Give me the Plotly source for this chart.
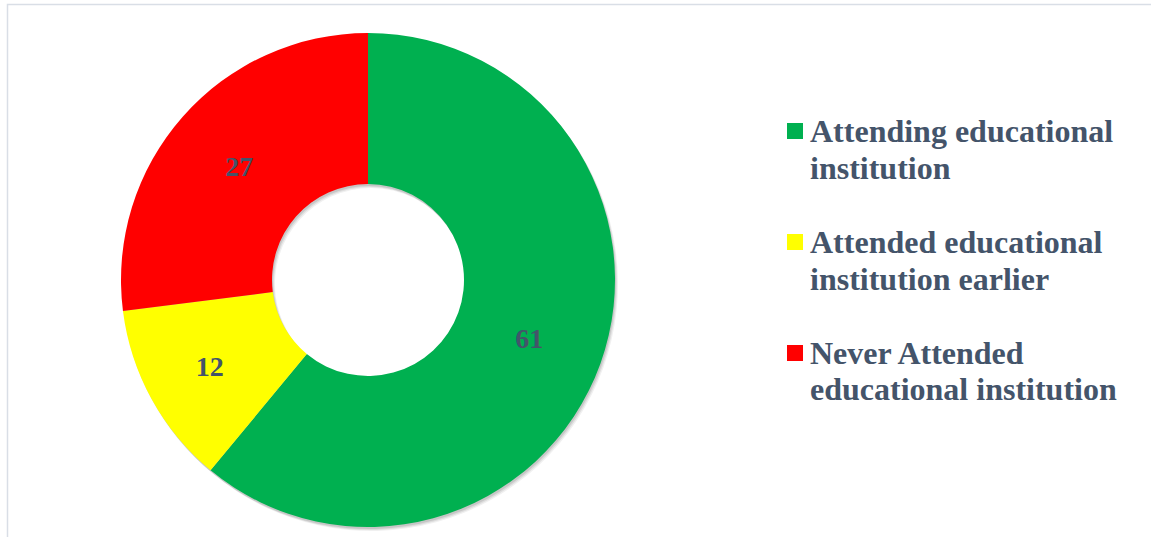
import plotly.graph_objects as go

# ---- data ----
categories = [
    "Attending educational institution",
    "Attended educational institution earlier",
    "Never Attended educational institution",
]
legend_lines = [
    ["Attending educational", "institution"],
    ["Attended educational", "institution earlier"],
    ["Never Attended", "educational institution"],
]
values = [61, 12, 27]
colors = ["#00B050", "#FFFF00", "#FF0000"]

W, H = 1151, 537
TEXT_COLOR = "#44546A"
FONT = "Liberation Serif"

# pie geometry in pixels
cx, cy, R = 368, 280, 247
hole = 96 / 247


def dom(cx_, cy_):
    return dict(
        x=[(cx_ - R) / W, (cx_ + R) / W],
        y=[(H - (cy_ + R)) / H, (H - (cy_ - R)) / H],
    )


fig = go.Figure()

# soft shadow layers
for dx, dy, a in [(3, 4, 0.06), (2, 3, 0.08), (1, 2, 0.10)]:
    fig.add_trace(go.Pie(
        values=values, labels=categories, sort=False, direction="clockwise",
        rotation=0, hole=hole, domain=dom(cx + dx, cy + dy),
        marker=dict(colors=[f"rgba(0,0,0,{a})"] * len(values), line=dict(width=0)),
        textinfo="none", hoverinfo="skip", showlegend=False,
    ))

fig.add_trace(go.Pie(
    values=values, labels=categories, sort=False, direction="clockwise",
    rotation=0, hole=hole, domain=dom(cx, cy),
    marker=dict(colors=colors, line=dict(width=0)),
    textinfo="value", textposition="inside", insidetextorientation="horizontal",
    textfont=dict(family=FONT, size=28, color=TEXT_COLOR, weight="bold"),
    showlegend=False,
))

# legend (custom, to match line spacing)
annotations = []
shapes = []
for i, (lines, col) in enumerate(zip(legend_lines, colors)):
    yc = 131 + i * 111
    shapes.append(dict(
        type="rect", xref="paper", yref="paper",
        x0=787 / W, x1=803 / W, y0=(H - (yc + 8)) / H, y1=(H - (yc - 8)) / H,
        fillcolor=col, line=dict(width=0),
    ))
    for j, ln in enumerate(lines):
        annotations.append(dict(
            text=ln, xref="paper", yref="paper", x=808 / W,
            y=(H - (yc + j * 36.5)) / H, xanchor="left", yanchor="middle",
            showarrow=False,
            font=dict(family=FONT, size=32, color=TEXT_COLOR, weight="bold"),
        ))

# chart border (top and left edges visible)
shapes.append(dict(
    type="rect", xref="paper", yref="paper",
    x0=7.5 / W, x1=1.02, y0=-0.05, y1=(H - 4.5) / H,
    line=dict(color="#D9DEE6", width=1.5), fillcolor="rgba(0,0,0,0)", layer="below",
))

fig.update_layout(
    width=W, height=H,
    margin=dict(l=0, r=0, t=0, b=0),
    paper_bgcolor="white", plot_bgcolor="white",
    annotations=annotations, shapes=shapes,
    showlegend=False,
    uniformtext=dict(minsize=28, mode="show"),
)

fig.write_html("out.html")
